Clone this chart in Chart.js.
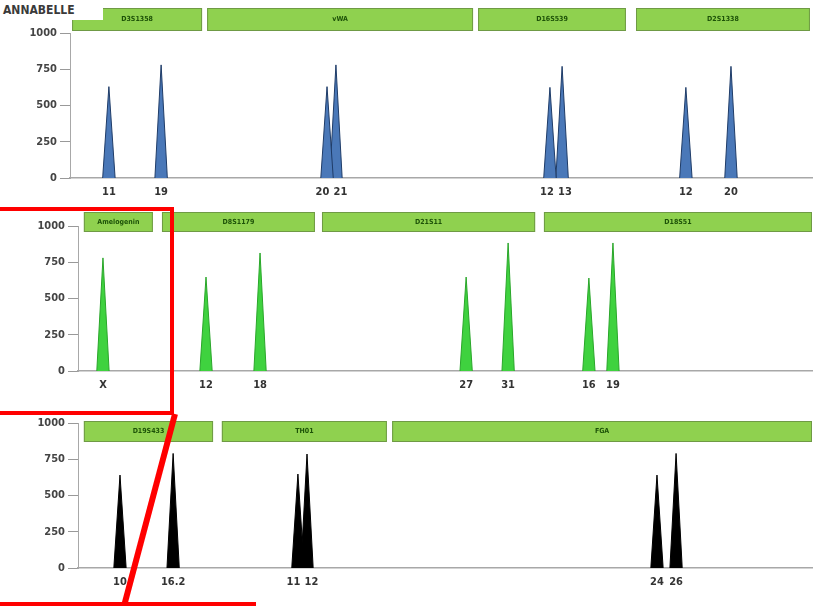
<!DOCTYPE html>
<html lang="en">
<head>
    <meta charset="UTF-8">
    <title>Annabelle DNA profile</title>
    <script src="https://cdn.jsdelivr.net/npm/chart.js"></script>
    <style>
        body {
            margin: 0;
            background-color: #fff;
            font-family: "Liberation Sans", Arial, sans-serif;
        }
        #wrap {
            position: relative;
            width: 817px;
            height: 606px;
            overflow: hidden;
            background: #fff;
        }
        .panel {
            position: absolute;
            left: 0;
            width: 817px;
        }
        #title {
            position: absolute;
            left: 0;
            top: 0;
            width: 100px;
            height: 20px;
            background: #fff;
            color: #3a3a3a;
            font: bold 12px "DejaVu Sans Condensed", "Liberation Sans", Arial, sans-serif;
            padding-left: 3px;
            line-height: 20px;
            z-index: 2;
        }
        #marks {
            position: absolute;
            left: 0;
            top: 0;
            z-index: 3;
        }
    </style>
</head>
<body>
<div id="wrap">
    <canvas id="panel1" class="panel" style="top:0px" width="817" height="200"></canvas>
    <canvas id="panel2" class="panel" style="top:200px" width="817" height="205"></canvas>
    <canvas id="panel3" class="panel" style="top:405px" width="817" height="201"></canvas>
    <div id="title">ANNABELLE</div>
    <svg id="marks" width="817" height="606">
        <polyline points="0,209 172,209 172,413 0,413" fill="none" stroke="#ff0000" stroke-width="4"/>
        <line x1="175" y1="414" x2="124" y2="606" stroke="#ff0000" stroke-width="6"/>
        <line x1="0" y1="604" x2="256" y2="604" stroke="#ff0000" stroke-width="4"/>
    </svg>
</div>

<script>
    // sizes are in base pairs, heights in RFU
    const yTicks = [0, 250, 500, 750, 1000];
    const peakHalfWidth = 2.1;

    // blue dye
    const blueLoci = ['D3S1358', 'vWA', 'D16S539', 'D2S1338'];
    const blueLocusStart = [100.7, 146.2, 237.5, 290.7];
    const blueLocusEnd = [144.5, 235.8, 287.3, 349.3];
    const blueAlleles = ['11', '19', '20', '21', '12', '13', '12', '20'];
    const blueSizes = [113.1, 130.7, 186.6, 189.6, 261.7, 265.8, 307.5, 322.7];
    const blueHeights = [630, 780, 630, 780, 625, 770, 625, 770];

    // green dye
    const greenLoci = ['Amelogenin', 'D8S1179', 'D21S11', 'D18S51'];
    const greenLocusStart = [102.0, 128.6, 183.1, 258.7];
    const greenLocusEnd = [125.5, 180.7, 255.7, 350.0];
    const greenAlleles = ['X', '12', '18', '27', '31', '16', '19'];
    const greenSizes = [108.5, 143.6, 162.0, 232.2, 246.5, 274.0, 282.2];
    const greenHeights = [780, 648, 814, 648, 883, 641, 883];

    // yellow dye (shown black)
    const yellowLoci = ['D19S433', 'TH01', 'FGA'];
    const yellowLocusStart = [102.0, 149.0, 207.0];
    const yellowLocusEnd = [146.0, 205.2, 350.0];
    const yellowAlleles = ['10', '16.2', '11', '12', '24', '26'];
    const yellowSizes = [114.3, 132.4, 174.9, 178.0, 297.2, 303.7];
    const yellowHeights = [641, 790, 648, 786, 641, 790];

    const panels = [
        { id: 'panel1', loci: blueLoci, start: blueLocusStart, end: blueLocusEnd,
          alleles: blueAlleles, sizes: blueSizes, heights: blueHeights,
          fill: '#4a78b8', edge: '#1f3c68',
          top: 33, left: 70, axisH: 22, boxTop: -25, boxH: 23 },
        { id: 'panel2', loci: greenLoci, start: greenLocusStart, end: greenLocusEnd,
          alleles: greenAlleles, sizes: greenSizes, heights: greenHeights,
          fill: '#3fd23f', edge: '#2aa62a',
          top: 26, left: 78, axisH: 34, boxTop: -14, boxH: 20 },
        { id: 'panel3', loci: yellowLoci, start: yellowLocusStart, end: yellowLocusEnd,
          alleles: yellowAlleles, sizes: yellowSizes, heights: yellowHeights,
          fill: '#000000', edge: '#000000',
          top: 18, left: 78, axisH: 38, boxTop: -2, boxH: 21 }
    ];

    const labelFont = 'bold 11px "DejaVu Sans Condensed", "Liberation Sans", Arial';

    // green locus bars over the plot + allele calls under the peaks
    const lociPlugin = {
        id: 'loci',
        afterDraw(chart, args, opts) {
            const ctx = chart.ctx;
            const x = chart.scales.x;
            const top = chart.chartArea.top + opts.boxTop;
            ctx.save();
            opts.loci.forEach(function(name, i) {
                const x0 = x.getPixelForValue(opts.start[i]);
                const x1 = x.getPixelForValue(opts.end[i]);
                ctx.fillStyle = '#8fd14f';
                ctx.fillRect(x0, top, x1 - x0, opts.boxH);
                ctx.strokeStyle = '#6f9a45';
                ctx.lineWidth = 1;
                ctx.strokeRect(x0 + 0.5, top + 0.5, x1 - x0 - 1, opts.boxH - 1);
                ctx.fillStyle = '#1d5208';
                ctx.font = 'bold 7px "DejaVu Sans Condensed", "Liberation Sans", Arial';
                ctx.textAlign = 'center';
                ctx.textBaseline = 'middle';
                ctx.fillText(name, (x0 + x1) / 2, top + opts.boxH / 2);
            });

            // allele labels, pushed apart when two peaks sit close together
            const px = opts.sizes.map(function(s) { return x.getPixelForValue(s); });
            const minGap = 18;
            for (let i = 0; i < px.length - 1; i++) {
                const d = px[i + 1] - px[i];
                if (d < minGap) {
                    const mid = (px[i] + px[i + 1]) / 2;
                    px[i] = mid - minGap / 2;
                    px[i + 1] = mid + minGap / 2;
                }
            }
            ctx.font = labelFont;
            ctx.fillStyle = '#333';
            ctx.textAlign = 'center';
            ctx.textBaseline = 'middle';
            const y = chart.chartArea.bottom + 14;
            opts.alleles.forEach(function(a, i) {
                ctx.fillText(a, px[i], y);
            });
            ctx.restore();
        }
    };

    panels.forEach(function(p) {
        const datasets = p.sizes.map(function(s, i) {
            return {
                data: [
                    { x: s - peakHalfWidth, y: 0 },
                    { x: s, y: p.heights[i] },
                    { x: s + peakHalfWidth, y: 0 }
                ],
                borderColor: p.edge,
                backgroundColor: p.fill,
                borderWidth: 1,
                fill: 'origin',
                pointRadius: 0,
                tension: 0
            };
        });

        new Chart(document.getElementById(p.id), {
            type: 'line',
            data: { datasets: datasets },
            plugins: [lociPlugin],
            options: {
                responsive: false,
                animation: false,
                layout: { padding: { top: p.top, right: 5, left: 0, bottom: 0 } },
                plugins: {
                    legend: { display: false },
                    tooltip: { enabled: false },
                    loci: {
                        loci: p.loci, start: p.start, end: p.end, boxTop: p.boxTop, boxH: p.boxH,
                        alleles: p.alleles, sizes: p.sizes
                    }
                },
                scales: {
                    x: {
                        type: 'linear',
                        min: 100,
                        max: 350,
                        grid: { display: false, drawTicks: false },
                        border: { color: '#a8a8a8', width: 1.5 },
                        afterFit: function(scale) { scale.height = p.axisH; },
                        ticks: { display: false }
                    },
                    y: {
                        min: 0,
                        max: 1000,
                        afterBuildTicks: function(scale) {
                            scale.ticks = yTicks.map(function(v) { return { value: v }; });
                        },
                        afterFit: function(scale) { scale.width = p.left; },
                        grid: { drawOnChartArea: false, tickLength: 10, color: '#999' },
                        border: { color: '#a8a8a8', width: 1 },
                        ticks: {
                            padding: 3,
                            color: '#444',
                            font: { size: 11, weight: 'bold', family: '"DejaVu Sans Condensed", "Liberation Sans", Arial' },
                            callback: function(v) { return String(v); }
                        }
                    }
                }
            }
        });
    });
</script>
</body>
</html>
